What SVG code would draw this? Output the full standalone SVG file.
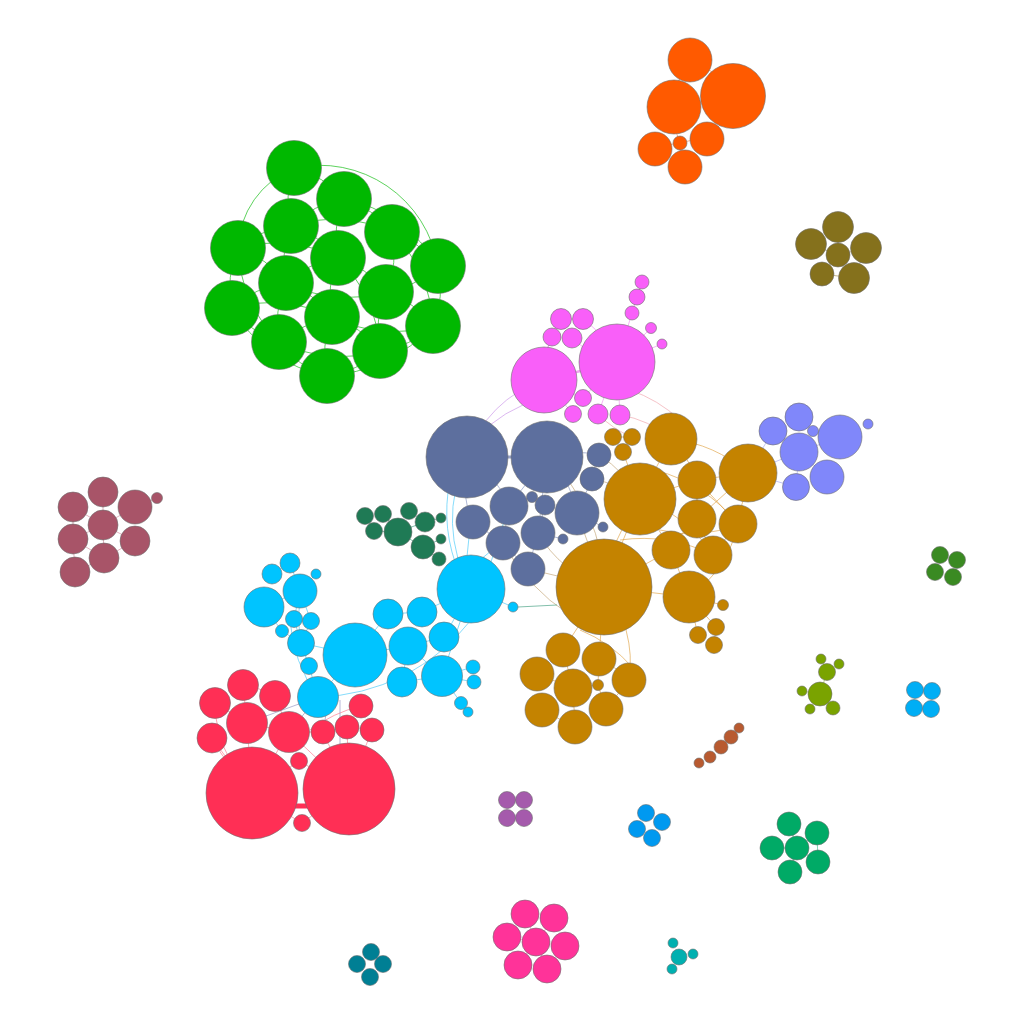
<svg xmlns="http://www.w3.org/2000/svg" width="1024" height="1024" viewBox="0 0 1024 1024">
<style>
circle{stroke:#6e6e6e;stroke-width:0.6}
path{fill:none;stroke-width:0.8;opacity:0.8}
.k1{fill:#00b800}.e1{stroke:#00b800}
.k2{fill:#ff5a00}.e2{stroke:#ff7a40}
.k3{fill:#85711c}.e3{stroke:#a59050}
.k4{fill:#f95ff9}.e4{stroke:#f08af0}
.k5{fill:#5d6f9e}.e5{stroke:#7f8fbf}
.k6{fill:#c48300}.e6{stroke:#e0a040}
.k7{fill:#8087fa}.e7{stroke:#a0a4f0}
.k8{fill:#1f7a55}.e8{stroke:#3a9a7a}
.k9{fill:#00c4ff}.e9{stroke:#40c8f8}
.k10{fill:#ff2f55}.e10{stroke:#ff7088}
.k11{fill:#a85468}.e11{stroke:#d08898}
.k12{fill:#b85a30}
.k13{fill:#7aa300}.e13{stroke:#a0c040}
.k14{fill:#3a8a22}
.k15{fill:#00aef5}
.k16{fill:#a55aac}
.k17{fill:#0099f0}
.k18{fill:#00aa66}.e18{stroke:#40c090}
.k19{fill:#ff3399}.e19{stroke:#ff80c0}
.k20{fill:#007f94}
.k21{fill:#00b0b0}
.ep{stroke:#c890e8}.er{stroke:#f0a0a8}.et{stroke:#c0a070}.eg{stroke:#9090c0}
</style>
<g id="connectors">
<path class="e1" d="M294 168 A90 90 0 0 0 238 248"/>
<path class="e1" d="M294 168 A120 120 0 0 1 438 266"/>
<path class="e1" d="M294 168 A100 100 0 0 1 344 199"/>
<path class="e1" d="M344 199 A100 100 0 0 1 392 232"/>
<path class="e1" d="M392 232 A100 100 0 0 1 438 266"/>
<path class="e1" d="M238 248 A100 100 0 0 0 232 308"/>
<path class="e1" d="M232 308 A100 100 0 0 0 279 342"/>
<path class="e1" d="M279 342 A100 100 0 0 0 327 376"/>
<path class="e1" d="M327 376 A100 100 0 0 0 380 351"/>
<path class="e1" d="M380 351 A100 100 0 0 0 433 326"/>
<path class="e1" d="M433 326 A100 100 0 0 0 438 266"/>
<path class="e1" d="M291 226 A100 100 0 0 1 338 258"/>
<path class="e1" d="M338 258 A100 100 0 0 1 386 292"/>
<path class="e1" d="M286 283 A100 100 0 0 1 332 317"/>
<path class="e1" d="M332 317 A100 100 0 0 1 380 351"/>
<path class="e1" d="M291 226 A100 100 0 0 0 286 283"/>
<path class="e1" d="M338 258 A100 100 0 0 0 332 317"/>
<path class="e1" d="M392 232 A100 100 0 0 1 386 292"/>
<path class="e1" d="M386 292 A100 100 0 0 1 433 326"/>
<path class="e1" d="M238 248 A100 100 0 0 1 286 283"/>
<path class="e1" d="M286 283 A100 100 0 0 0 279 342"/>
<path class="e1" d="M344 199 A100 100 0 0 0 338 258"/>
<path class="e1" d="M438 266 A100 100 0 0 1 386 292"/>
<path class="e1" d="M386 292 A100 100 0 0 0 380 351"/>
<path class="e1" d="M332 317 A100 100 0 0 0 327 376"/>
<path class="e1" d="M232 308 A100 100 0 0 1 286 283"/>
<path class="e1" d="M291 226 A100 100 0 0 0 238 248"/>
<path class="e1" d="M294 168 A100 100 0 0 0 291 226"/>
<path class="e1" d="M338 258 A100 100 0 0 0 286 283"/>
<path class="e1" d="M344 199 A100 100 0 0 0 291 226"/>
<path class="e1" d="M238 248 A140 140 0 0 0 279 342"/>
<path class="e1" d="M232 308 A140 140 0 0 0 327 376"/>
<path class="e1" d="M327 376 A160 160 0 0 0 433 326"/>
<path class="e1" d="M279 342 A140 140 0 0 1 332 317"/>
<path class="e1" d="M344 199 A140 140 0 0 1 438 266"/>
<path class="e1" d="M291 226 A140 140 0 0 1 392 232"/>
<path class="e1" d="M286 283 A140 140 0 0 0 386 292"/>
<path class="e1" d="M332 317 A140 140 0 0 0 433 326"/>
<path class="e1" d="M238 248 A140 140 0 0 1 338 258"/>
<path class="e1" d="M232 308 A140 140 0 0 1 332 317"/>
<path class="e1" d="M279 342 A140 140 0 0 0 380 351"/>
<path class="e1" d="M392 232 A140 140 0 0 1 433 326"/>
<path class="e1" d="M338 258 A140 140 0 0 1 380 351"/>
<path class="e2" d="M690 60 A80 80 0 0 0 674 107"/>
<path class="e2" d="M690 60 A80 80 0 0 1 733 96"/>
<path class="e2" d="M674 107 A80 80 0 0 0 680 143"/>
<path class="e2" d="M733 96 A80 80 0 0 1 707 139"/>
<path class="e2" d="M680 143 A80 80 0 0 0 655 149"/>
<path class="e2" d="M680 143 A80 80 0 0 0 685 167"/>
<path class="e2" d="M680 143 A80 80 0 0 1 707 139"/>
<path class="e3" d="M838 227 L838 255"/>
<path class="e3" d="M811 244 L838 255"/>
<path class="e3" d="M866 248 L838 255"/>
<path class="e3" d="M822 274 L838 255"/>
<path class="e3" d="M854 278 L838 255"/>
<path class="e3" d="M822 274 L854 278"/>
<path class="e4" d="M617 362 L544 380" style="stroke-width:2.5"/>
<path class="e4" d="M544 380 A100 100 0 0 1 561 319"/>
<path class="e4" d="M544 380 A100 100 0 0 1 552 337"/>
<path class="e4" d="M583 319 A100 100 0 0 1 617 362"/>
<path class="e4" d="M572 338 A100 100 0 0 0 617 362"/>
<path class="e4" d="M642 282 L637 297 L632 313 L617 362"/>
<path class="e4" d="M617 362 L651 328"/>
<path class="e4" d="M617 362 L662 344"/>
<path class="e4" d="M617 362 L598 414"/>
<path class="e4" d="M617 362 L620 415"/>
<path class="e4" d="M544 380 L583 398"/>
<path class="e4" d="M544 380 L573 414"/>
<path class="e4" d="M583 398 L617 362"/>
<path class="ep" d="M544 380 A120 120 0 0 0 467 457"/>
<path class="ep" d="M560 395 A140 140 0 0 0 490 425"/>
<path class="er" d="M620 415 A100 100 0 0 1 671 439"/>
<path class="er" d="M630 390 A140 140 0 0 1 680 420"/>
<path class="er" d="M598 414 A100 100 0 0 0 632 437"/>
<path class="e5" d="M467 457 L547 457" style="stroke-width:3"/>
<path class="e5" d="M467 457 A100 100 0 0 0 473 522"/>
<path class="e5" d="M467 457 A100 100 0 0 1 509 506"/>
<path class="e5" d="M547 457 A100 100 0 0 1 577 513"/>
<path class="e5" d="M547 457 A100 100 0 0 1 599 455"/>
<path class="e5" d="M509 506 L503 543"/>
<path class="e5" d="M473 522 L503 543"/>
<path class="e5" d="M503 543 L528 569"/>
<path class="e5" d="M538 533 L528 569"/>
<path class="e5" d="M577 513 L592 479"/>
<path class="e5" d="M545 505 L538 533"/>
<path class="e5" d="M509 506 L532 497 L545 505"/>
<path class="e5" d="M577 513 L603 527"/>
<path class="e5" d="M538 533 L563 539"/>
<path class="e5" d="M547 457 L509 506"/>
<path class="e5" d="M547 457 L538 533"/>
<path class="e9" d="M471 589 A140 140 0 0 1 467 457"/>
<path class="e9" d="M460 575 A160 160 0 0 1 450 480"/>
<path class="e9" d="M471 589 A120 120 0 0 1 473 522"/>
<path class="e9" d="M480 560 A140 140 0 0 1 503 543"/>
<path class="e9" d="M490 565 L509 506"/>
<path class="et" d="M547 457 A180 180 0 0 1 604 587"/>
<path class="et" d="M577 513 L604 587"/>
<path class="et" d="M528 569 L604 587"/>
<path class="et" d="M538 533 A120 120 0 0 0 604 587"/>
<path class="et" d="M592 479 A120 120 0 0 1 640 499"/>
<path class="et" d="M599 455 A120 120 0 0 1 640 499"/>
<path class="et" d="M503 543 A200 200 0 0 0 570 615"/>
<path class="e6" d="M613 437 L632 437 L623 452 L613 437"/>
<path class="e6" d="M623 452 L640 499"/>
<path class="e6" d="M671 439 A140 140 0 0 1 748 473"/>
<path class="e6" d="M671 439 A120 120 0 0 1 697 480"/>
<path class="e6" d="M671 439 L640 499"/>
<path class="e6" d="M640 499 L697 480"/>
<path class="e6" d="M697 480 L748 473"/>
<path class="e6" d="M697 519 L748 473"/>
<path class="e6" d="M738 524 L697 480"/>
<path class="e6" d="M671 550 L640 499"/>
<path class="e6" d="M713 555 L697 519"/>
<path class="e6" d="M689 597 L671 550"/>
<path class="e6" d="M604 587 L640 499"/>
<path class="e6" d="M604 587 L671 550"/>
<path class="e6" d="M604 587 L689 597"/>
<path class="e6" d="M604 587 L563 650"/>
<path class="e6" d="M604 587 L599 659"/>
<path class="e6" d="M604 587 A120 120 0 0 1 629 680"/>
<path class="e6" d="M580 630 A140 140 0 0 1 633 668"/>
<path class="e6" d="M563 650 L573 688"/>
<path class="e6" d="M599 659 L598 685"/>
<path class="e6" d="M606 709 L629 680"/>
<path class="e6" d="M575 727 L573 688"/>
<path class="e6" d="M537 674 L573 688"/>
<path class="e6" d="M542 710 L575 727"/>
<path class="e6" d="M689 597 L716 627"/>
<path class="e6" d="M723 605 L689 597"/>
<path class="e6" d="M698 635 L689 597"/>
<path class="e6" d="M714 645 L716 627"/>
<path class="e6" d="M640 499 A140 140 0 0 1 713 555"/>
<path class="e6" d="M697 519 A100 100 0 0 0 671 550"/>
<path class="e6" d="M738 524 A120 120 0 0 1 689 597"/>
<path class="e6" d="M748 473 A140 140 0 0 1 713 555"/>
<path class="e6" d="M697 480 L697 519"/>
<path class="e6" d="M640 499 A200 200 0 0 0 604 587"/>
<path class="e6" d="M655 470 A160 160 0 0 1 738 524"/>
<path class="e6" d="M660 530 A120 120 0 0 0 738 524"/>
<path class="e6" d="M620 540 A160 160 0 0 1 713 555"/>
<path class="e6" d="M573 688 L598 685 L606 709"/>
<path class="e6" d="M599 659 A100 100 0 0 1 629 680"/>
<path class="e7" d="M748 473 L799 452"/>
<path class="e7" d="M748 473 L773 431"/>
<path class="e7" d="M748 473 L796 487"/>
<path class="e7" d="M799 452 L840 437"/>
<path class="e7" d="M799 452 L827 477"/>
<path class="e7" d="M799 417 L813 431 L840 437"/>
<path class="e7" d="M773 431 L799 452 L796 487"/>
<path class="e8" d="M365 516 L374 531 L398 532 L383 514"/>
<path class="e8" d="M398 532 L425 522 L441 518"/>
<path class="e8" d="M398 532 L423 547 L441 539"/>
<path class="e8" d="M409 511 L425 522"/>
<path class="e8" d="M423 547 L439 559"/>
<path class="e8" d="M518 607 L557 605"/>
<path class="e9" d="M264 607 L300 591"/>
<path class="e9" d="M272 574 L290 563 L300 591 L316 574"/>
<path class="e9" d="M300 591 L294 619 L301 643"/>
<path class="e9" d="M300 591 L311 621 L301 643"/>
<path class="e9" d="M264 607 L282 631 L301 643"/>
<path class="e9" d="M301 643 L355 655"/>
<path class="e9" d="M301 643 L309 666 L318 697"/>
<path class="e9" d="M318 697 L355 655"/>
<path class="e9" d="M355 655 L388 614 L422 612 L471 589"/>
<path class="e9" d="M408 646 L444 637 L471 589"/>
<path class="e9" d="M355 655 L408 646 L442 676"/>
<path class="e9" d="M442 676 L473 667"/>
<path class="e9" d="M442 676 L474 682"/>
<path class="e9" d="M442 676 L461 703 L468 712"/>
<path class="e9" d="M442 676 L471 589"/>
<path class="e9" d="M402 682 L408 646"/>
<path class="e9" d="M471 589 L513 607"/>
<path class="e9" d="M318 697 A200 200 0 0 0 471 620"/>
<path class="e9" d="M300 600 A140 140 0 0 0 301 643"/>
<path class="e9" d="M290 620 A150 150 0 0 0 318 697"/>
<path class="e9" d="M402 682 L442 676"/>
<path class="e10" d="M243 685 L247 723 L252 793"/>
<path class="e10" d="M215 703 L247 723"/>
<path class="e10" d="M212 738 L252 793"/>
<path class="e10" d="M275 696 L289 732 L252 793"/>
<path class="e10" d="M289 732 L349 789"/>
<path class="e10" d="M323 732 L349 789"/>
<path class="e10" d="M347 727 L349 789"/>
<path class="e10" d="M372 730 L349 789"/>
<path class="e10" d="M361 706 L347 727"/>
<path class="e10" d="M299 761 L252 793"/>
<path class="e10" d="M299 761 L349 789"/>
<path class="e10" d="M302 823 L252 793"/>
<path class="e10" d="M302 823 L349 789"/>
<path class="e10" d="M247 723 L289 732 L323 732"/>
<path class="e10" d="M215 703 A120 120 0 0 0 230 760"/>
<path class="e10" d="M212 738 A120 120 0 0 0 235 770"/>
<path class="e10" d="M243 685 A100 100 0 0 1 275 696"/>
<path class="e10" d="M323 732 A100 100 0 0 1 372 730"/>
<path class="e10" d="M310 730 A140 140 0 0 1 361 706"/>
<path class="eg" d="M318 697 L289 732"/>
<path class="eg" d="M330 690 L323 732"/>
<path class="eg" d="M318 697 L247 723"/>
<path class="eg" d="M340 700 L340 760"/>
<path d="M292 806 L310 806" style="stroke:#ff2f55;stroke-width:5;opacity:1"/>
<path class="e11" d="M103 492 L103 525 L104 558"/>
<path class="e11" d="M73 507 L103 525 L135 541"/>
<path class="e11" d="M73 539 L103 525 L135 507"/>
<path class="e11" d="M73 539 L75 572 L104 558"/>
<path class="e11" d="M73 507 L73 539 L104 558 L135 541"/>
<path class="e11" d="M135 507 L157 498"/>
<path class="e13" d="M821 659 L827 672 L839 664"/>
<path class="e13" d="M827 672 L820 694 L802 691"/>
<path class="e13" d="M810 709 L820 694 L833 708"/>
<path class="e18" d="M789 824 L797 848 L817 833"/>
<path class="e18" d="M772 848 L797 848 L818 862"/>
<path class="e18" d="M790 872 L797 848"/>
<path class="e18" d="M817 833 L818 862"/>
<path class="e19" d="M525 914 L536 942 L554 918"/>
<path class="e19" d="M507 937 L536 942 L565 946"/>
<path class="e19" d="M518 965 L536 942 L547 969"/>
</g>
<g id="green-1"><circle class="k1" cx="294" cy="168" r="27.5"/></g>
<g id="green-2"><circle class="k1" cx="344" cy="199" r="27.5"/></g>
<g id="green-3"><circle class="k1" cx="291" cy="226" r="27.5"/></g>
<g id="green-4"><circle class="k1" cx="238" cy="248" r="27.5"/></g>
<g id="green-5"><circle class="k1" cx="392" cy="232" r="27.5"/></g>
<g id="green-6"><circle class="k1" cx="338" cy="258" r="27.5"/></g>
<g id="green-7"><circle class="k1" cx="438" cy="266" r="27.5"/></g>
<g id="green-8"><circle class="k1" cx="286" cy="283" r="27.5"/></g>
<g id="green-9"><circle class="k1" cx="232" cy="308" r="27.5"/></g>
<g id="green-10"><circle class="k1" cx="386" cy="292" r="27.5"/></g>
<g id="green-11"><circle class="k1" cx="332" cy="317" r="27.5"/></g>
<g id="green-12"><circle class="k1" cx="433" cy="326" r="27.5"/></g>
<g id="green-13"><circle class="k1" cx="279" cy="342" r="27.5"/></g>
<g id="green-14"><circle class="k1" cx="380" cy="351" r="27.5"/></g>
<g id="green-15"><circle class="k1" cx="327" cy="376" r="27.5"/></g>
<g id="orange-1"><circle class="k2" cx="690" cy="60" r="22"/></g>
<g id="orange-2"><circle class="k2" cx="733" cy="96" r="32.5"/></g>
<g id="orange-3"><circle class="k2" cx="674" cy="107" r="27"/></g>
<g id="orange-4"><circle class="k2" cx="707" cy="139" r="17"/></g>
<g id="orange-5"><circle class="k2" cx="655" cy="149" r="17"/></g>
<g id="orange-6"><circle class="k2" cx="680" cy="143" r="7"/></g>
<g id="orange-7"><circle class="k2" cx="685" cy="167" r="17"/></g>
<g id="olive-1"><circle class="k3" cx="838" cy="227" r="15.5"/></g>
<g id="olive-2"><circle class="k3" cx="811" cy="244" r="15.5"/></g>
<g id="olive-3"><circle class="k3" cx="866" cy="248" r="15.5"/></g>
<g id="olive-4"><circle class="k3" cx="838" cy="255" r="12"/></g>
<g id="olive-5"><circle class="k3" cx="822" cy="274" r="12"/></g>
<g id="olive-6"><circle class="k3" cx="854" cy="278" r="15.5"/></g>
<g id="mag-1"><circle class="k4" cx="617" cy="362" r="38"/></g>
<g id="mag-2"><circle class="k4" cx="544" cy="380" r="33"/></g>
<g id="mag-3"><circle class="k4" cx="561" cy="319" r="10.5"/></g>
<g id="mag-4"><circle class="k4" cx="583" cy="319" r="10.5"/></g>
<g id="mag-5"><circle class="k4" cx="552" cy="337" r="9"/></g>
<g id="mag-6"><circle class="k4" cx="572" cy="338" r="10"/></g>
<g id="mag-7"><circle class="k4" cx="642" cy="282" r="7"/></g>
<g id="mag-8"><circle class="k4" cx="637" cy="297" r="8"/></g>
<g id="mag-9"><circle class="k4" cx="632" cy="313" r="7"/></g>
<g id="mag-10"><circle class="k4" cx="651" cy="328" r="5.5"/></g>
<g id="mag-11"><circle class="k4" cx="662" cy="344" r="5"/></g>
<g id="mag-12"><circle class="k4" cx="583" cy="398" r="8.5"/></g>
<g id="mag-13"><circle class="k4" cx="573" cy="414" r="8.5"/></g>
<g id="mag-14"><circle class="k4" cx="598" cy="414" r="10"/></g>
<g id="mag-15"><circle class="k4" cx="620" cy="415" r="10"/></g>
<g id="slate-1"><circle class="k5" cx="467" cy="457" r="41"/></g>
<g id="slate-2"><circle class="k5" cx="547" cy="457" r="36"/></g>
<g id="slate-3"><circle class="k5" cx="599" cy="455" r="12"/></g>
<g id="slate-4"><circle class="k5" cx="592" cy="479" r="12"/></g>
<g id="slate-5"><circle class="k5" cx="509" cy="506" r="19"/></g>
<g id="slate-6"><circle class="k5" cx="473" cy="522" r="17"/></g>
<g id="slate-7"><circle class="k5" cx="532" cy="497" r="5.5"/></g>
<g id="slate-8"><circle class="k5" cx="545" cy="505" r="10"/></g>
<g id="slate-9"><circle class="k5" cx="577" cy="513" r="22"/></g>
<g id="slate-10"><circle class="k5" cx="503" cy="543" r="17"/></g>
<g id="slate-11"><circle class="k5" cx="538" cy="533" r="17"/></g>
<g id="slate-12"><circle class="k5" cx="603" cy="527" r="5"/></g>
<g id="slate-13"><circle class="k5" cx="563" cy="539" r="5"/></g>
<g id="slate-14"><circle class="k5" cx="528" cy="569" r="17"/></g>
<g id="gold-1"><circle class="k6" cx="613" cy="437" r="8.5"/></g>
<g id="gold-2"><circle class="k6" cx="632" cy="437" r="8.5"/></g>
<g id="gold-3"><circle class="k6" cx="623" cy="452" r="8.5"/></g>
<g id="gold-4"><circle class="k6" cx="671" cy="439" r="26"/></g>
<g id="gold-5"><circle class="k6" cx="640" cy="499" r="36"/></g>
<g id="gold-6"><circle class="k6" cx="748" cy="473" r="29"/></g>
<g id="gold-7"><circle class="k6" cx="697" cy="480" r="19"/></g>
<g id="gold-8"><circle class="k6" cx="697" cy="519" r="19"/></g>
<g id="gold-9"><circle class="k6" cx="738" cy="524" r="19"/></g>
<g id="gold-10"><circle class="k6" cx="671" cy="550" r="19"/></g>
<g id="gold-11"><circle class="k6" cx="713" cy="555" r="19"/></g>
<g id="gold-12"><circle class="k6" cx="604" cy="587" r="48"/></g>
<g id="gold-13"><circle class="k6" cx="689" cy="597" r="26"/></g>
<g id="gold-14"><circle class="k6" cx="723" cy="605" r="5.5"/></g>
<g id="gold-15"><circle class="k6" cx="716" cy="627" r="8.5"/></g>
<g id="gold-16"><circle class="k6" cx="698" cy="635" r="8.5"/></g>
<g id="gold-17"><circle class="k6" cx="714" cy="645" r="8.5"/></g>
<g id="gold-18"><circle class="k6" cx="563" cy="650" r="17"/></g>
<g id="gold-19"><circle class="k6" cx="599" cy="659" r="17"/></g>
<g id="gold-20"><circle class="k6" cx="573" cy="688" r="19"/></g>
<g id="gold-21"><circle class="k6" cx="629" cy="680" r="17"/></g>
<g id="gold-22"><circle class="k6" cx="598" cy="685" r="5.5"/></g>
<g id="gold-23"><circle class="k6" cx="606" cy="709" r="17"/></g>
<g id="gold-24"><circle class="k6" cx="575" cy="727" r="17"/></g>
<g id="gold-25"><circle class="k6" cx="537" cy="674" r="17"/></g>
<g id="gold-26"><circle class="k6" cx="542" cy="710" r="17"/></g>
<g id="peri-1"><circle class="k7" cx="799" cy="417" r="14"/></g>
<g id="peri-2"><circle class="k7" cx="773" cy="431" r="14"/></g>
<g id="peri-3"><circle class="k7" cx="813" cy="431" r="5.5"/></g>
<g id="peri-4"><circle class="k7" cx="840" cy="437" r="22"/></g>
<g id="peri-5"><circle class="k7" cx="868" cy="424" r="5"/></g>
<g id="peri-6"><circle class="k7" cx="799" cy="452" r="19"/></g>
<g id="peri-7"><circle class="k7" cx="827" cy="477" r="17"/></g>
<g id="peri-8"><circle class="k7" cx="796" cy="487" r="13.5"/></g>
<g id="dg-1"><circle class="k8" cx="365" cy="516" r="8.5"/></g>
<g id="dg-2"><circle class="k8" cx="383" cy="514" r="8.5"/></g>
<g id="dg-3"><circle class="k8" cx="409" cy="511" r="8.5"/></g>
<g id="dg-4"><circle class="k8" cx="374" cy="531" r="8.5"/></g>
<g id="dg-5"><circle class="k8" cx="398" cy="532" r="14"/></g>
<g id="dg-6"><circle class="k8" cx="425" cy="522" r="10"/></g>
<g id="dg-7"><circle class="k8" cx="441" cy="518" r="5"/></g>
<g id="dg-8"><circle class="k8" cx="423" cy="547" r="12"/></g>
<g id="dg-9"><circle class="k8" cx="441" cy="539" r="5"/></g>
<g id="dg-10"><circle class="k8" cx="439" cy="559" r="7"/></g>
<g id="cyan-1"><circle class="k9" cx="471" cy="589" r="34"/></g>
<g id="cyan-2"><circle class="k9" cx="264" cy="607" r="20"/></g>
<g id="cyan-3"><circle class="k9" cx="300" cy="591" r="17"/></g>
<g id="cyan-4"><circle class="k9" cx="272" cy="574" r="10"/></g>
<g id="cyan-5"><circle class="k9" cx="290" cy="563" r="10"/></g>
<g id="cyan-6"><circle class="k9" cx="316" cy="574" r="5"/></g>
<g id="cyan-7"><circle class="k9" cx="294" cy="619" r="8.5"/></g>
<g id="cyan-8"><circle class="k9" cx="311" cy="621" r="8.5"/></g>
<g id="cyan-9"><circle class="k9" cx="282" cy="631" r="6.5"/></g>
<g id="cyan-10"><circle class="k9" cx="301" cy="643" r="13.5"/></g>
<g id="cyan-11"><circle class="k9" cx="355" cy="655" r="32"/></g>
<g id="cyan-12"><circle class="k9" cx="309" cy="666" r="8.5"/></g>
<g id="cyan-13"><circle class="k9" cx="318" cy="697" r="20.5"/></g>
<g id="cyan-14"><circle class="k9" cx="388" cy="614" r="15"/></g>
<g id="cyan-15"><circle class="k9" cx="422" cy="612" r="15"/></g>
<g id="cyan-16"><circle class="k9" cx="408" cy="646" r="19"/></g>
<g id="cyan-17"><circle class="k9" cx="444" cy="637" r="15"/></g>
<g id="cyan-18"><circle class="k9" cx="402" cy="682" r="15"/></g>
<g id="cyan-19"><circle class="k9" cx="442" cy="676" r="20.5"/></g>
<g id="cyan-20"><circle class="k9" cx="513" cy="607" r="5"/></g>
<g id="cyan-21"><circle class="k9" cx="473" cy="667" r="7"/></g>
<g id="cyan-22"><circle class="k9" cx="474" cy="682" r="7"/></g>
<g id="cyan-23"><circle class="k9" cx="461" cy="703" r="6.5"/></g>
<g id="cyan-24"><circle class="k9" cx="468" cy="712" r="5"/></g>
<g id="red-1"><circle class="k10" cx="243" cy="685" r="15.5"/></g>
<g id="red-2"><circle class="k10" cx="215" cy="703" r="15.5"/></g>
<g id="red-3"><circle class="k10" cx="275" cy="696" r="15.5"/></g>
<g id="red-4"><circle class="k10" cx="247" cy="723" r="20.5"/></g>
<g id="red-5"><circle class="k10" cx="212" cy="738" r="15"/></g>
<g id="red-6"><circle class="k10" cx="289" cy="732" r="20.5"/></g>
<g id="red-7"><circle class="k10" cx="323" cy="732" r="12"/></g>
<g id="red-8"><circle class="k10" cx="347" cy="727" r="12"/></g>
<g id="red-9"><circle class="k10" cx="372" cy="730" r="12"/></g>
<g id="red-10"><circle class="k10" cx="361" cy="706" r="12"/></g>
<g id="red-11"><circle class="k10" cx="299" cy="761" r="8.5"/></g>
<g id="red-12"><circle class="k10" cx="252" cy="793" r="46"/></g>
<g id="red-13"><circle class="k10" cx="349" cy="789" r="46"/></g>
<g id="red-14"><circle class="k10" cx="302" cy="823" r="8.5"/></g>
<g id="mauve-1"><circle class="k11" cx="103" cy="492" r="15"/></g>
<g id="mauve-2"><circle class="k11" cx="73" cy="507" r="15"/></g>
<g id="mauve-3"><circle class="k11" cx="135" cy="507" r="17"/></g>
<g id="mauve-4"><circle class="k11" cx="157" cy="498" r="5.5"/></g>
<g id="mauve-5"><circle class="k11" cx="103" cy="525" r="15"/></g>
<g id="mauve-6"><circle class="k11" cx="73" cy="539" r="15"/></g>
<g id="mauve-7"><circle class="k11" cx="135" cy="541" r="15"/></g>
<g id="mauve-8"><circle class="k11" cx="104" cy="558" r="15"/></g>
<g id="mauve-9"><circle class="k11" cx="75" cy="572" r="15"/></g>
<g id="brown-1"><circle class="k12" cx="699" cy="763" r="5"/></g>
<g id="brown-2"><circle class="k12" cx="710" cy="757" r="6"/></g>
<g id="brown-3"><circle class="k12" cx="721" cy="747" r="7"/></g>
<g id="brown-4"><circle class="k12" cx="731" cy="737" r="7"/></g>
<g id="brown-5"><circle class="k12" cx="739" cy="728" r="5"/></g>
<g id="yg-1"><circle class="k13" cx="821" cy="659" r="5"/></g>
<g id="yg-2"><circle class="k13" cx="839" cy="664" r="5"/></g>
<g id="yg-3"><circle class="k13" cx="827" cy="672" r="8.5"/></g>
<g id="yg-4"><circle class="k13" cx="820" cy="694" r="12"/></g>
<g id="yg-5"><circle class="k13" cx="802" cy="691" r="5"/></g>
<g id="yg-6"><circle class="k13" cx="810" cy="709" r="5"/></g>
<g id="yg-7"><circle class="k13" cx="833" cy="708" r="7"/></g>
<g id="leaf-1"><circle class="k14" cx="940" cy="555" r="8.5"/></g>
<g id="leaf-2"><circle class="k14" cx="957" cy="560" r="8.5"/></g>
<g id="leaf-3"><circle class="k14" cx="935" cy="572" r="8.5"/></g>
<g id="leaf-4"><circle class="k14" cx="953" cy="577" r="8.5"/></g>
<g id="sky-1"><circle class="k15" cx="915" cy="690" r="8.5"/></g>
<g id="sky-2"><circle class="k15" cx="932" cy="691" r="8.5"/></g>
<g id="sky-3"><circle class="k15" cx="914" cy="708" r="8.5"/></g>
<g id="sky-4"><circle class="k15" cx="931" cy="709" r="8.5"/></g>
<g id="purple-1"><circle class="k16" cx="507" cy="800" r="8.5"/></g>
<g id="purple-2"><circle class="k16" cx="524" cy="800" r="8.5"/></g>
<g id="purple-3"><circle class="k16" cx="507" cy="818" r="8.5"/></g>
<g id="purple-4"><circle class="k16" cx="524" cy="818" r="8.5"/></g>
<g id="azure-1"><circle class="k17" cx="646" cy="813" r="8.5"/></g>
<g id="azure-2"><circle class="k17" cx="662" cy="822" r="8.5"/></g>
<g id="azure-3"><circle class="k17" cx="637" cy="829" r="8.5"/></g>
<g id="azure-4"><circle class="k17" cx="652" cy="838" r="8.5"/></g>
<g id="em-1"><circle class="k18" cx="789" cy="824" r="12"/></g>
<g id="em-2"><circle class="k18" cx="817" cy="833" r="12"/></g>
<g id="em-3"><circle class="k18" cx="772" cy="848" r="12"/></g>
<g id="em-4"><circle class="k18" cx="797" cy="848" r="12"/></g>
<g id="em-5"><circle class="k18" cx="818" cy="862" r="12"/></g>
<g id="em-6"><circle class="k18" cx="790" cy="872" r="12"/></g>
<g id="hp-1"><circle class="k19" cx="525" cy="914" r="14"/></g>
<g id="hp-2"><circle class="k19" cx="554" cy="918" r="14"/></g>
<g id="hp-3"><circle class="k19" cx="507" cy="937" r="14"/></g>
<g id="hp-4"><circle class="k19" cx="536" cy="942" r="14"/></g>
<g id="hp-5"><circle class="k19" cx="565" cy="946" r="14"/></g>
<g id="hp-6"><circle class="k19" cx="518" cy="965" r="14"/></g>
<g id="hp-7"><circle class="k19" cx="547" cy="969" r="14"/></g>
<g id="teal-1"><circle class="k20" cx="371" cy="952" r="8.5"/></g>
<g id="teal-2"><circle class="k20" cx="357" cy="964" r="8.5"/></g>
<g id="teal-3"><circle class="k20" cx="383" cy="964" r="8.5"/></g>
<g id="teal-4"><circle class="k20" cx="370" cy="977" r="8.5"/></g>
<g id="aqua-1"><circle class="k21" cx="673" cy="943" r="5"/></g>
<g id="aqua-2"><circle class="k21" cx="679" cy="957" r="8"/></g>
<g id="aqua-3"><circle class="k21" cx="693" cy="954" r="5"/></g>
<g id="aqua-4"><circle class="k21" cx="672" cy="969" r="5"/></g>
</svg>
